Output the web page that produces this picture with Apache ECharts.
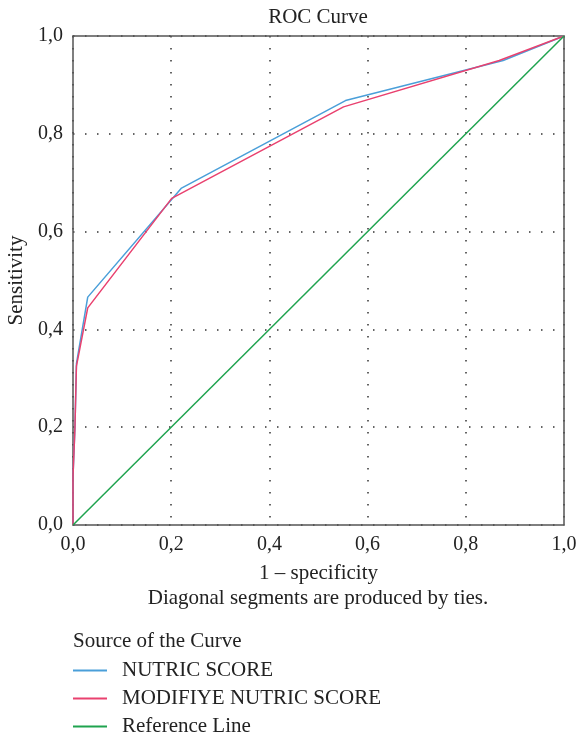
<!DOCTYPE html>
<html>
<head>
<meta charset="utf-8">
<script src="https://cdn.jsdelivr.net/npm/echarts@6/dist/echarts.min.js"></script>
<style>html,body{margin:0;padding:0;background:#fff}#c{width:577px;height:735px}</style>
</head>
<body>
<div id="c"></div>
<script>
var nutricX = [0, 0, 0.004, 0.007, 0.030, 0.221, 0.555, 0.876, 1];
var nutricY = [0, 0.10, 0.20, 0.33, 0.466, 0.689, 0.868, 0.950, 1];
var modX = [0, 0, 0.004, 0.007, 0.030, 0.201, 0.551, 0.868, 1];
var modY = [0, 0.10, 0.20, 0.325, 0.444, 0.668, 0.855, 0.950, 1];
var refX = [0, 1];
var refY = [0, 1];
var seriesNames = ['NUTRIC SCORE', 'MODIFIYE NUTRIC SCORE', 'Reference Line'];
var seriesColors = ['#4a9fd9', '#e9416f', '#1fa34f'];

function pairs(xs, ys) { return xs.map(function (x, i) { return [x, ys[i]]; }); }
var font = 'Liberation Serif';
var txt = '#222';
var fs = 21;
function fmt(v) { return v.toFixed(1).replace('.', ','); }

var legends = seriesNames.map(function (n, i) {
  return {
    orient: 'vertical', left: 73, top: 660 + i * 28, itemWidth: 34, itemHeight: 2,
    icon: 'rect', data: [n], padding: 0, selectedMode: false,
    textStyle: { fontFamily: font, fontSize: fs, color: txt, padding: [0, 0, 0, 10] }
  };
});

var chart = echarts.init(document.getElementById('c'));
chart.setOption({
  animation: false,
  textStyle: { fontFamily: font },
  title: [
    { text: 'ROC Curve', left: 318, textAlign: 'center', top: 7, padding: 0,
      textStyle: { fontFamily: font, fontSize: fs, fontWeight: 'normal', color: txt } },
    { text: 'Diagonal segments are produced by ties.', left: 318, textAlign: 'center', top: 588, padding: 0,
      textStyle: { fontFamily: font, fontSize: fs, fontWeight: 'normal', color: txt } },
    { text: 'Source of the Curve', left: 73, top: 631, padding: 0,
      textStyle: { fontFamily: font, fontSize: fs, fontWeight: 'normal', color: txt } }
  ],
  legend: legends,
  grid: { left: 73, right: 13, top: 36, bottom: 210, outerBoundsMode: 'none', containLabel: false },
  xAxis: [{
    type: 'value', min: 0, max: 1, interval: 0.2,
    name: '1 – specificity', nameLocation: 'middle', nameGap: 38,
    nameTextStyle: { fontFamily: font, fontSize: fs, color: txt },
    axisLine: { show: true, onZero: false, lineStyle: { color: '#555', width: 1.5 } },
    axisTick: { show: false },
    axisLabel: { formatter: fmt, fontFamily: font, fontSize: 20, color: txt, margin: 10 },
    splitLine: { show: true, lineStyle: { color: '#333', width: 1.5, type: [1.5, 10.5] } }
  }, {
    type: 'value', min: 0, max: 1, position: 'top',
    axisLine: { show: true, onZero: false, lineStyle: { color: '#555', width: 1.5 } },
    axisTick: { show: false }, axisLabel: { show: false }, splitLine: { show: false }
  }],
  yAxis: [{
    type: 'value', min: 0, max: 1, interval: 0.2,
    name: 'Sensitivity', nameLocation: 'middle', nameGap: 45,
    nameTextStyle: { fontFamily: font, fontSize: fs, color: txt },
    axisLine: { show: true, onZero: false, lineStyle: { color: '#555', width: 1.5 } },
    axisTick: { show: false },
    axisLabel: { formatter: fmt, fontFamily: font, fontSize: 20, color: txt, margin: 10 },
    splitLine: { show: true, lineStyle: { color: '#333', width: 1.5, type: [1.5, 10.5] } }
  }, {
    type: 'value', min: 0, max: 1, position: 'right',
    axisLine: { show: true, onZero: false, lineStyle: { color: '#555', width: 1.5 } },
    axisTick: { show: false }, axisLabel: { show: false }, splitLine: { show: false }
  }],
  series: [
    { name: seriesNames[0], type: 'line', data: pairs(nutricX, nutricY), symbol: 'none',
      itemStyle: { color: seriesColors[0] }, lineStyle: { color: seriesColors[0], width: 1.5 } },
    { name: seriesNames[1], type: 'line', data: pairs(modX, modY), symbol: 'none',
      itemStyle: { color: seriesColors[1] }, lineStyle: { color: seriesColors[1], width: 1.5 } },
    { name: seriesNames[2], type: 'line', data: pairs(refX, refY), symbol: 'none',
      itemStyle: { color: seriesColors[2] }, lineStyle: { color: seriesColors[2], width: 1.5 } }
  ]
});
</script>
</body>
</html>
